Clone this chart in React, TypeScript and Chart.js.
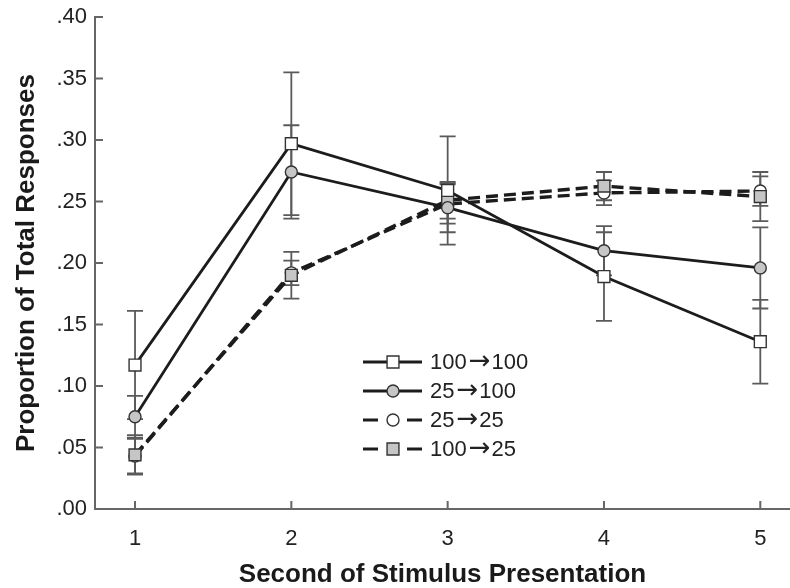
import React, { useEffect, useRef } from "react";
import { Chart, registerables } from "chart.js";

Chart.register(...registerables);

// ---------- data ----------
const seconds = [1, 2, 3, 4, 5];
const yTickValues = [0, 0.05, 0.1, 0.15, 0.2, 0.25, 0.3, 0.35, 0.4];
// legend labels: [from, to]
const seriesFrom = ["100", "25", "25", "100"];
const seriesTo = ["100", "100", "25", "25"];
const ARROW = "\u2192";

const mean100to100 = [0.117, 0.297, 0.259, 0.189, 0.136];
const se100to100 = [0.044, 0.058, 0.044, 0.036, 0.034];

const mean25to100 = [0.075, 0.274, 0.245, 0.21, 0.196];
const se25to100 = [0.017, 0.038, 0.02, 0.02, 0.033];

const mean25to25 = [0.043, 0.192, 0.248, 0.257, 0.2585];
const se25to25 = [0.014, 0.01, 0.016, 0.01, 0.012];

const mean100to25 = [0.044, 0.19, 0.251, 0.2625, 0.254];
const se100to25 = [0.016, 0.019, 0.015, 0.0115, 0.02];

const xTitle = "Second of Stimulus Presentation";
const yTitle = "Proportion of Total Responses";

// ---------- styles ----------
const FONT = "'Liberation Sans', Arial, Helvetica, sans-serif";
const ARROW_FONT = "'DejaVu Sans', sans-serif";
const LINE = "#1c1c1c";
const AXIS = "#666666";
const ERR = "#5a5a5a";
const GREY_FILL = "#c6c6c6";
const DASH = [12, 6];

type Series = {
  from: string;
  to: string;
  mean: number[];
  se: number[];
  shape: "rect" | "circle";
  fill: string;
  dashed: boolean;
  order: number;
};

const series: Series[] = [
  { from: seriesFrom[0], to: seriesTo[0], mean: mean100to100, se: se100to100, shape: "rect", fill: "#ffffff", dashed: false, order: 0 },
  { from: seriesFrom[1], to: seriesTo[1], mean: mean25to100, se: se25to100, shape: "circle", fill: GREY_FILL, dashed: false, order: 1 },
  { from: seriesFrom[2], to: seriesTo[2], mean: mean25to25, se: se25to25, shape: "circle", fill: "#ffffff", dashed: true, order: 3 },
  { from: seriesFrom[3], to: seriesTo[3], mean: mean100to25, se: se100to25, shape: "rect", fill: GREY_FILL, dashed: true, order: 2 },
];

const RECT_R = 8.4;
const CIRC_R = 6;

const errorBarPlugin = {
  id: "errorBars",
  beforeDatasetsDraw(chart: any) {
    const { ctx } = chart;
    const xs = chart.scales.x;
    const ys = chart.scales.y;
    ctx.save();
    ctx.strokeStyle = ERR;
    ctx.lineWidth = 1.8;
    series.forEach((s) => {
      s.mean.forEach((m, i) => {
        const x = xs.getPixelForValue(seconds[i]);
        const yHi = ys.getPixelForValue(m + s.se[i]);
        const yLo = ys.getPixelForValue(m - s.se[i]);
        ctx.beginPath();
        ctx.moveTo(x, yHi);
        ctx.lineTo(x, yLo);
        ctx.moveTo(x - 8, yHi);
        ctx.lineTo(x + 8, yHi);
        ctx.moveTo(x - 8, yLo);
        ctx.lineTo(x + 8, yLo);
        ctx.stroke();
      });
    });
    ctx.restore();
  },
};

function drawMarker(ctx: CanvasRenderingContext2D, s: Series, x: number, y: number) {
  ctx.save();
  ctx.fillStyle = s.fill;
  ctx.strokeStyle = "#333333";
  ctx.lineWidth = 1.4;
  ctx.beginPath();
  if (s.shape === "rect") {
    const h = RECT_R * Math.SQRT1_2;
    ctx.rect(x - h, y - h, 2 * h, 2 * h);
  } else {
    ctx.arc(x, y, CIRC_R, 0, Math.PI * 2);
  }
  ctx.fill();
  ctx.stroke();
  ctx.restore();
}

const axisDecorPlugin = {
  id: "axisDecor",
  afterDraw(chart: any) {
    const { ctx, chartArea } = chart;
    const xs = chart.scales.x;
    const ys = chart.scales.y;
    ctx.save();
    // inward ticks
    ctx.strokeStyle = AXIS;
    ctx.lineWidth = 2;
    ctx.beginPath();
    yTickValues.forEach((v) => {
      const y = ys.getPixelForValue(v);
      ctx.moveTo(chartArea.left, y);
      ctx.lineTo(chartArea.left + 8, y);
    });
    seconds.forEach((v) => {
      const x = xs.getPixelForValue(v);
      ctx.moveTo(x, chartArea.bottom);
      ctx.lineTo(x, chartArea.bottom - 8);
    });
    ctx.stroke();

    // legend
    const rowsY = [362, 391, 420, 449];
    const lx0 = 363;
    const lx1 = 422;
    const mx = 393;
    series.forEach((s, i) => {
      const y = rowsY[i];
      ctx.strokeStyle = LINE;
      ctx.lineWidth = 2.8;
      ctx.setLineDash([]);
      ctx.beginPath();
      if (s.dashed) {
        ctx.moveTo(lx0, y);
        ctx.lineTo(lx0 + 15, y);
        ctx.moveTo(lx1 - 15, y);
        ctx.lineTo(lx1, y);
      } else {
        ctx.moveTo(lx0, y);
        ctx.lineTo(lx1, y);
      }
      ctx.stroke();
      drawMarker(ctx, s, mx, y);
      ctx.fillStyle = "#222222";
      ctx.textBaseline = "middle";
      ctx.textAlign = "left";
      let x = 430;
      ctx.font = `22px ${FONT}`;
      ctx.fillText(s.from, x, y + 1);
      x += ctx.measureText(s.from).width + 2;
      ctx.font = `26px ${ARROW_FONT}`;
      ctx.fillText(ARROW, x, y);
      x += ctx.measureText(ARROW).width + 1;
      ctx.font = `22px ${FONT}`;
      ctx.fillText(s.to, x, y + 1);
    });
    ctx.restore();
  },
};

export default function App() {
  const canvasRef = useRef<HTMLCanvasElement | null>(null);

  useEffect(() => {
    if (!canvasRef.current) return;
    const datasets = series.map((s) => ({
      label: `${s.from}${ARROW}${s.to}`,
      data: s.mean.map((m, i) => ({ x: seconds[i], y: m })),
      order: s.order,
      borderColor: LINE,
      borderWidth: s.dashed ? 3.4 : 2.8,
      borderDash: s.dashed ? DASH : [],
      pointStyle: s.shape,
      pointRadius: s.shape === "rect" ? RECT_R : CIRC_R,
      pointBackgroundColor: s.fill,
      pointBorderColor: "#333333",
      pointBorderWidth: 1.4,
      fill: false,
      tension: 0,
    }));

    const chart = new Chart(canvasRef.current, {
      type: "line",
      data: { datasets },
      options: {
        animation: false,
        responsive: false,
        devicePixelRatio: 1,
        layout: { autoPadding: false, padding: { top: 17, left: 0, right: 0, bottom: 0 } },
        plugins: { legend: { display: false }, tooltip: { enabled: false } },
        scales: {
          x: {
            type: "linear",
            min: 0.744,
            max: 5.19,
            afterBuildTicks: (s: any) => {
              s.ticks = seconds.map((v) => ({ value: v }));
            },
            afterFit: (s: any) => {
              s.height = 79;
              s.paddingLeft = 0;
              s.paddingRight = 0;
            },
            grid: { display: false, drawTicks: false },
            border: { display: true, color: AXIS, width: 2 },
            ticks: {
              color: "#222222",
              font: { family: FONT, size: 22 },
              padding: 17,
              callback: (v: any) => String(v),
            },
            title: {
              display: true,
              text: xTitle,
              color: "#1a1a1a",
              font: { family: FONT, size: 26, weight: "bold", lineHeight: 1.0 },
              padding: { top: 0, bottom: 0 },
            },
          },
          y: {
            type: "linear",
            min: 0,
            max: 0.4,
            afterBuildTicks: (s: any) => {
              s.ticks = yTickValues.map((v) => ({ value: v }));
            },
            afterFit: (s: any) => {
              s.width = 95;
              s.paddingTop = 0;
              s.paddingBottom = 0;
            },
            grid: { display: false, drawTicks: false },
            border: { display: true, color: AXIS, width: 2 },
            ticks: {
              color: "#222222",
              font: { family: FONT, size: 22 },
              padding: 8,
              callback: (v: any) => Number(v).toFixed(2).replace(/^0/, ""),
            },
            title: {
              display: true,
              text: yTitle,
              color: "#1a1a1a",
              font: { family: FONT, size: 26, weight: "bold", lineHeight: 1.2 },
              padding: { top: 11, bottom: 0 },
            },
          },
        },
      },
      plugins: [errorBarPlugin, axisDecorPlugin],
    } as any);

    return () => chart.destroy();
  }, []);

  return (
    <div style={{ position: "fixed", left: 0, top: 0, width: 790, height: 588, background: "#ffffff" }}>
      <canvas ref={canvasRef} width={790} height={588} style={{ display: "block" }} />
    </div>
  );
}
